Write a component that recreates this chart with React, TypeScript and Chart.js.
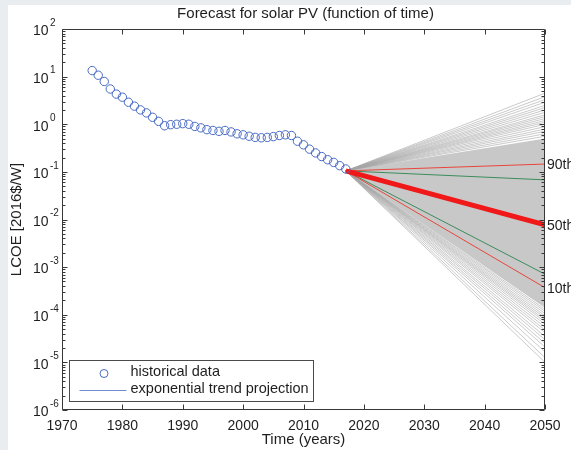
import { useEffect, useRef } from "react";
import { Chart, registerables } from "chart.js";

Chart.register(...registerables);

const FONT = "'Liberation Sans', Arial, Helvetica, sans-serif";

// Historical levelised cost of solar PV, 2016 $/W
const historyYears = [
  1975, 1976, 1977, 1978, 1979, 1980, 1981, 1982, 1983, 1984, 1985, 1986, 1987, 1988, 1989,
  1990, 1991, 1992, 1993, 1994, 1995, 1996, 1997, 1998, 1999, 2000, 2001, 2002, 2003, 2004,
  2005, 2006, 2007, 2008, 2009, 2010, 2011, 2012, 2013, 2014, 2015, 2016, 2017,
];
const historyCost = [
  13.4, 10.7, 7.9, 5.5, 4.3, 3.7, 2.9, 2.4, 2.0, 1.73, 1.4, 1.15, 0.93, 0.98, 1.0,
  1.03, 1.0, 0.9, 0.84, 0.77, 0.74, 0.71, 0.74, 0.69, 0.63, 0.6, 0.56, 0.53, 0.52, 0.53,
  0.55, 0.58, 0.6, 0.58, 0.44, 0.37, 0.3, 0.25, 0.21, 0.18, 0.158, 0.135, 0.115,
];

// Projection fan: every trend starts at the same point and ends at 2050
const projectionStart = 2017;
const projectionEnd = 2050;
const startCost = 0.105;

// Percentile trends (value reached in 2050)
const p90End = 0.146;
const p50End = 0.0077;
const p10End = 0.00037;
const innerUpperEnd = 0.068;
const innerLowerEnd = 0.00071;
const percentileLabels = ["90th", "50th", "10th"];

// Dense core of the simulated trends (2050 bounds)
const bandTopEnd = 0.5;
const bandBottomEnd = 0.00014;

// Individual simulated trends outside the dense core (2050 values)
const trendEndsHigh = [
  0.56, 0.63, 0.71, 0.79, 0.89, 1.0, 1.1, 1.2, 1.32, 1.45, 1.58, 1.78, 2.0, 2.24, 2.5, 2.9,
  3.3, 3.8, 4.5,
];
const trendEndsLow = [
  1.3e-4, 1.18e-4, 1.06e-4, 9.5e-5, 8.6e-5, 7.8e-5, 7.1e-5, 6.3e-5, 5.5e-5, 4.8e-5, 4.2e-5,
  3.5e-5, 3.0e-5, 2.5e-5, 2.1e-5, 1.66e-5, 1.26e-5, 1.0e-5,
];

const xTickYears = [1970, 1980, 1990, 2000, 2010, 2020, 2030, 2040, 2050];
const yDecades = [-6, -5, -4, -3, -2, -1, 0, 1, 2];

const titleText = "Forecast for solar PV (function of time)";
const xTitle = "Time (years)";
const yTitle = "LCOE [2016$/W]";
const legendLabels = ["historical data", "exponential trend projection"];

const markerColor = "rgb(72,106,196)";
const legendLineColor = "rgb(112,138,204)";
const red = "rgb(232,70,60)";
const green = "rgb(60,140,92)";
const thickRed = "rgb(240,24,24)";
const textColor = "#1e1e1e";
const axisColor = "#383838";

const trend = (endValue: number, color: string, width: number, extra: any = {}) => ({
  type: "line",
  data: [
    { x: projectionStart, y: startCost },
    { x: projectionEnd, y: endValue },
  ],
  borderColor: color,
  borderWidth: width,
  pointRadius: 0,
  fill: false,
  clip: 0,
  ...extra,
});

const decorPlugin = {
  id: "decor",
  afterDatasetsDraw(chart: any) {
    const { ctx, chartArea: a, scales } = chart;
    const x = scales.x;
    const y = scales.y;
    ctx.save();
    ctx.strokeStyle = axisColor;
    ctx.lineWidth = 1;
    const L = Math.round(a.left) + 0.5;
    const R = Math.round(a.right) - 0.5;
    const T = Math.round(a.top) + 0.5;
    const B = Math.round(a.bottom) - 0.5;
    ctx.beginPath();
    ctx.rect(L, T, R - L, B - T);
    for (const t of xTickYears) {
      const px = Math.round(x.getPixelForValue(t)) + 0.5;
      ctx.moveTo(px, B);
      ctx.lineTo(px, B - 5);
      ctx.moveTo(px, T);
      ctx.lineTo(px, T + 5);
    }
    for (const d of yDecades) {
      for (let m = 1; m <= 9; m++) {
        const v = m * Math.pow(10, d);
        if (v > 100.0001) break;
        const py = Math.round(y.getPixelForValue(v)) + 0.5;
        const len = m === 1 ? 5 : 3;
        ctx.moveTo(L, py);
        ctx.lineTo(L + len, py);
        ctx.moveTo(R, py);
        ctx.lineTo(R - len, py);
      }
    }
    ctx.stroke();

    // decade labels with raised exponents
    ctx.fillStyle = textColor;
    ctx.textBaseline = "middle";
    for (const d of yDecades) {
      const py = y.getPixelForValue(Math.pow(10, d));
      ctx.font = `14px ${FONT}`;
      ctx.textAlign = "right";
      ctx.fillText("10", a.left - 13.5, py + 2.5);
      ctx.font = `10px ${FONT}`;
      ctx.textAlign = "left";
      ctx.fillText(String(d), a.left - 12, py - 6);
    }
    ctx.restore();
  },
  afterDraw(chart: any) {
    const { ctx, chartArea: a, scales } = chart;
    const y = scales.y;
    ctx.save();
    ctx.fillStyle = textColor;

    // title
    ctx.font = `15px ${FONT}`;
    ctx.textAlign = "center";
    ctx.textBaseline = "middle";
    ctx.fillText(titleText, (a.left + a.right) / 2 + 2, 9);

    // percentile labels beside the right axis
    ctx.font = `14px ${FONT}`;
    ctx.textAlign = "left";
    const ends = [p90End, p50End, p10End];
    ends.forEach((v, i) => {
      ctx.fillText(percentileLabels[i], a.right + 2, y.getPixelForValue(v) + 1.5);
    });

    // legend box in the lower-left corner
    const lx = Math.round(a.left) + 7.5;
    const lw = 244;
    const lh = 41;
    const ly = Math.round(a.bottom) - 8.5 - lh;
    ctx.fillStyle = "#fff";
    ctx.fillRect(lx, ly, lw, lh);
    ctx.strokeStyle = "#4a4a4a";
    ctx.lineWidth = 1;
    ctx.strokeRect(lx, ly, lw, lh);

    ctx.strokeStyle = markerColor;
    ctx.beginPath();
    ctx.arc(lx + 34.5, ly + 13, 4, 0, Math.PI * 2);
    ctx.stroke();

    ctx.strokeStyle = legendLineColor;
    ctx.beginPath();
    ctx.moveTo(lx + 10, ly + 30);
    ctx.lineTo(lx + 57, ly + 30);
    ctx.stroke();

    ctx.fillStyle = textColor;
    ctx.font = `14.5px ${FONT}`;
    ctx.textAlign = "left";
    ctx.textBaseline = "middle";
    ctx.fillText(legendLabels[0], lx + 61, ly + 11.5);
    ctx.fillText(legendLabels[1], lx + 61, ly + 28.5);
    ctx.restore();
  },
};

export default function App() {
  const canvasRef = useRef<HTMLCanvasElement>(null);

  useEffect(() => {
    const canvas = canvasRef.current;
    if (!canvas) return;

    const history = {
      type: "line",
      data: historyYears.map((yr, i) => ({ x: yr, y: historyCost[i] })),
      showLine: false,
      pointStyle: "circle",
      pointRadius: 4.2,
      pointBorderWidth: 1,
      pointBorderColor: markerColor,
      pointBackgroundColor: "rgba(0,0,0,0)",
      borderColor: markerColor,
      fill: false,
    };

    const grayLine = (v: number) => trend(v, "rgba(165,165,165,0.65)", 0.9);

    const datasets: any[] = [
      history,
      trend(p50End, thickRed, 5),
      trend(p90End, red, 1),
      trend(p10End, red, 1),
      trend(innerUpperEnd, green, 1),
      trend(innerLowerEnd, green, 1),
      ...trendEndsHigh.map(grayLine),
      ...trendEndsLow.map(grayLine),
      trend(bandTopEnd, "rgba(0,0,0,0)", 1, { fill: "+1", backgroundColor: "rgb(200,200,200)" }),
      trend(bandBottomEnd, "rgba(0,0,0,0)", 1),
    ];

    const chart = new Chart(canvas, {
      type: "line",
      data: { datasets },
      options: {
        animation: false,
        responsive: false,
        devicePixelRatio: 1,
        events: [],
        layout: { padding: { top: 24, right: 26, left: 0, bottom: 0 } },
        plugins: {
          legend: { display: false },
          tooltip: { enabled: false },
          title: { display: false },
        },
        scales: {
          x: {
            type: "linear",
            min: 1970,
            max: 2050,
            grid: { display: false },
            border: { display: false },
            ticks: {
              stepSize: 10,
              color: textColor,
              font: { family: FONT, size: 14 },
              padding: 0,
              maxRotation: 0,
              callback: (v: any) => String(v),
            },
            title: {
              display: true,
              text: xTitle,
              color: textColor,
              font: { family: FONT, size: 15 },
              padding: { top: 0, bottom: 1.5 },
            },
            afterFit: (s: any) => {
              s.height = 40;
            },
          },
          y: {
            type: "logarithmic",
            min: 1e-6,
            max: 1e2,
            grid: { display: false },
            border: { display: false },
            ticks: { display: false },
            title: {
              display: true,
              text: yTitle,
              color: textColor,
              font: { family: FONT, size: 15 },
              padding: { top: 0, bottom: 0 },
            },
            afterFit: (s: any) => {
              s.width = 54;
            },
          },
        },
      } as any,
      plugins: [decorPlugin],
    } as any);

    return () => chart.destroy();
  }, []);

  return (
    <div style={{ position: "fixed", inset: 0, background: "#e9edef" }}>
      <div
        style={{
          position: "absolute",
          left: 8,
          top: 5,
          width: 563,
          height: 445,
          background: "#fff",
        }}
      >
        <canvas ref={canvasRef} width={563} height={445} style={{ display: "block" }} />
      </div>
    </div>
  );
}
